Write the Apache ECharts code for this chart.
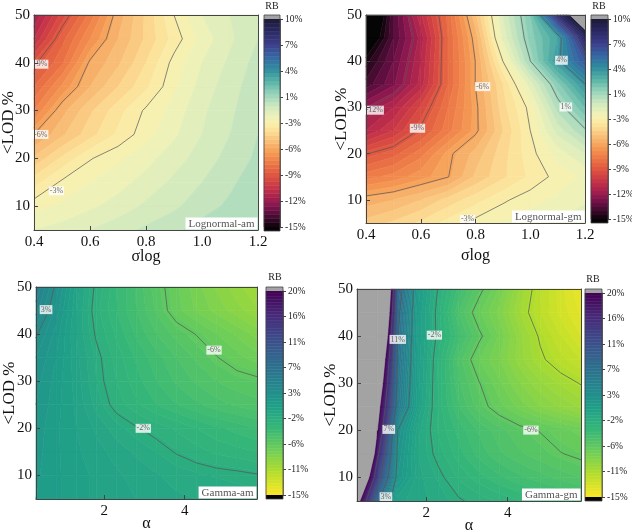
<!DOCTYPE html>
<html>
<head>
<meta charset="utf-8">
<script src="https://cdn.jsdelivr.net/npm/echarts@6/dist/echarts.min.js"></script>
<style>
html, body { margin: 0; padding: 0; background: #fff; }
#chart { width: 632px; height: 532px; }
</style>
</head>
<body>
<div id="chart"></div>
<script>
// ---- data ----
var sigmaLog = [0.4, 0.5, 0.6, 0.7, 0.8, 0.9, 1.0, 1.1, 1.2];
var alphaVals = [0.3, 0.8, 1.3, 1.8, 2.3, 2.8, 3.3, 3.8, 4.3, 4.8, 5.3, 5.8];
var lodVals = [5, 10, 15, 20, 25, 30, 35, 40, 45, 50];

// tick labels
var sigmaTicks = [0.4, 0.6, 0.8, 1.0, 1.2];
var alphaTicks = [2, 4];
var lodTicks = [10, 20, 30, 40, 50];

// RB (%) , one row per <LOD value (5 .. 50), one column per sigmaLog / alpha
var rbLognormalAm = [
  [-1.5, -1.3, -1.0, -0.7, -0.4, -0.1, 0.2, 0.4, 0.55],
  [-2.2, -1.9, -1.6, -1.3, -0.9, -0.6, -0.2, 0.1, 0.45],
  [-3.2, -2.4, -2.0, -1.7, -1.3, -0.9, -0.5, -0.1, 0.3],
  [-4.4, -3.4, -2.55, -2.1, -1.7, -1.2, -0.8, -0.3, 0.1],
  [-5.6, -4.6, -3.7, -2.9, -2.2, -1.6, -1.0, -0.5, 0.0],
  [-7.0, -5.2, -4.1, -3.2, -2.4, -1.8, -1.1, -0.6, -0.1],
  [-8.0, -6.4, -5.0, -4.0, -3.1, -2.1, -1.3, -0.7, -0.2],
  [-8.9, -7.6, -5.5, -4.6, -3.5, -2.3, -1.5, -0.9, -0.3],
  [-10.5, -8.2, -6.5, -5.0, -3.9, -2.8, -1.8, -1.1, -0.5],
  [-11.5, -9.3, -7.3, -5.3, -3.9, -2.5, -1.5, -1.0, -0.6]
];
var rbLognormalGm = [
  [-4.3, -3.9, -3.4, -2.8, -2.3, -2.0, -1.7, -1.4, -1.1],
  [-5.3, -5.0, -4.5, -3.8, -3.2, -2.6, -2.2, -1.9, -1.6],
  [-7.2, -6.8, -6.2, -5.65, -4.4, -3.6, -2.9, -2.3, -1.9],
  [-8.8, -8.2, -7.2, -5.8, -4.8, -3.7, -2.7, -1.8, -1.0],
  [-11.0, -10.0, -8.6, -7.2, -5.8, -4.0, -2.5, -0.8, 0.5],
  [-12.0, -11.0, -9.4, -7.5, -5.8, -3.7, -2.3, 0.2, 2.0],
  [-13.8, -12.6, -10.8, -8.0, -5.6, -3.5, -1.3, 1.3, 3.7],
  [-14.7, -13.0, -11.0, -8.0, -5.6, -2.5, 0.6, 3.5, 6.0],
  [-16.5, -13.5, -11.3, -8.0, -5.3, -1.4, 1.2, 3.0, 8.5],
  [-18.0, -13.5, -10.6, -7.8, -4.6, -1.0, 1.5, 8.0, 12.5]
];
var rbGammaAm = [
  [1.0, 0.6, 0.2, -0.1, -0.3, -0.5, -0.7, -0.9, -1.0, -1.1, -1.2, -1.3],
  [1.1, 0.6, 0.2, -0.1, -0.4, -0.7, -0.95, -1.2, -1.4, -1.55, -1.65, -1.8],
  [1.2, 0.6, 0.1, -0.3, -0.7, -1.1, -1.5, -1.95, -2.3, -2.6, -2.8, -3.0],
  [1.3, 0.6, 0.0, -0.6, -1.3, -1.8, -2.2, -2.6, -3.0, -3.4, -3.7, -4.0],
  [1.5, 0.7, -0.1, -1.2, -2.2, -2.9, -3.5, -4.0, -4.4, -4.8, -5.1, -5.3],
  [1.7, 0.8, -0.2, -1.5, -2.5, -3.3, -4.0, -4.6, -5.1, -5.5, -5.8, -6.0],
  [2.0, 1.0, -0.3, -1.6, -2.7, -3.6, -4.3, -5.0, -5.6, -6.2, -6.8, -7.3],
  [2.6, 1.3, -0.5, -2.0, -3.1, -4.1, -5.0, -5.7, -6.3, -7.0, -7.6, -8.2],
  [3.7, 1.8, -0.4, -2.3, -3.5, -4.5, -5.6, -6.8, -7.6, -8.2, -8.8, -9.4],
  [4.5, 2.3, -0.2, -2.1, -3.4, -4.6, -5.8, -6.9, -7.8, -8.6, -9.3, -10.0]
];
var rbGammaGm = [
  [22, 7.5, -0.3, -0.8, -1.2, -1.75, -2.2, -2.6, -3.0, -3.3, -3.6, -3.9],
  [30, 13.0, 1.5, -0.8, -1.6, -2.6, -3.3, -3.9, -4.4, -4.8, -5.2, -5.5],
  [40, 16.5, 2.0, -1.0, -2.2, -3.3, -4.2, -4.9, -5.4, -5.8, -6.2, -6.5],
  [45, 20.0, 2.5, -0.8, -2.6, -3.7, -4.6, -5.3, -5.9, -6.3, -6.8, -7.2],
  [50, 22, 5.5, 0.0, -2.7, -4.5, -5.8, -6.8, -7.7, -8.5, -9.1, -9.6],
  [55, 25, 6.0, 0.2, -2.7, -4.9, -6.2, -7.4, -8.5, -9.4, -10.1, -10.7],
  [60, 28, 6.5, 0.3, -2.6, -5.2, -7.0, -8.0, -9.3, -10.4, -11.3, -12.0],
  [70, 33, 7.0, 0.4, -2.2, -4.3, -6.0, -7.6, -9.3, -10.8, -12.0, -13.0],
  [75, 38, 7.5, 0.5, -2.3, -5.0, -6.9, -8.2, -10.0, -11.5, -12.7, -13.6],
  [80, 42, 8.5, 0.8, -2.0, -4.2, -5.9, -7.6, -9.6, -11.3, -12.8, -14.0]
];

// contour lines drawn (colorbar tick levels) and their inline labels [x, <LOD, text]
var linesLognormalAm = [-8.75, -5.625, -2.5];
var linesLognormalGm = [-11.875, -8.75, -5.625, -2.5, 0.625, 3.75, 6.875];
var linesGammaAm = [2.5, -1.875, -6.25];
var linesGammaGm = [15.625, 11.25, 6.875, 2.5, -1.875, -6.25, -10.625];

var labelsLognormalAm = [[0.424, 39.7, '-9%'], [0.424, 25.0, '-6%'], [0.48, 13.2, '-3%']];
var labelsLognormalGm = [[0.43, 29.4, '-12%'], [0.588, 25.5, '-9%'], [0.826, 34.5, '-6%'],
  [0.771, 5.8, '-3%'], [1.114, 40.2, '4%'], [1.13, 30.1, '1%']];
var labelsGammaAm = [[0.55, 45.2, '3%'], [2.97, 20.0, '-2%'], [4.73, 36.6, '-6%']];
var labelsGammaGm = [[1.30, 39.3, '11%'], [2.2, 40.2, '-2%'], [1.08, 20.2, '7%'],
  [1.01, 5.9, '3%'], [4.57, 20.05, '-6%']];

// colour scale ranges (RB %)
var rangeLognormal = [-15, 10];
var rangeGamma = [-15, 20];
var fillStep = 0.5;

// ---- styling ----
var FONT = '"Liberation Serif", "Times New Roman", serif';
var stopsLognormal = [
  [-15, '#0c0308'], [-14, '#3a0a2a'], [-13, '#6a1046'], [-12, '#961a50'],
  [-10.5, '#c2304a'], [-9, '#dc5040'], [-7.5, '#ec7646'], [-6, '#f59c56'],
  [-4.5, '#f9c47c'], [-3, '#fce9a2'], [-2, '#f4f2b6'], [-0.5, '#cfe9c0'],
  [1, '#97d3bb'], [2.5, '#56b2a5'], [4, '#2f8c9e'], [5.5, '#3766a4'],
  [7, '#3d3e8a'], [8.5, '#2c2863'], [10, '#1c1a36']
];
var stopsGamma = [
  [-15, '#fde725'], [-11.11, '#b5de2b'], [-7.22, '#6ece58'], [-3.33, '#35b779'],
  [0.56, '#1f9e89'], [4.44, '#26828e'], [8.33, '#31688e'], [12.22, '#3e4989'],
  [16.11, '#482878'], [20, '#440154']
];
var underColor = '#050505';
var overColor = '#a3a3a3';

function hexToRgb(h) {
  return [parseInt(h.substr(1, 2), 16), parseInt(h.substr(3, 2), 16), parseInt(h.substr(5, 2), 16)];
}
function makeCmap(stops) {
  var rgb = stops.map(function (s) { return [s[0], hexToRgb(s[1])]; });
  return function (v) {
    if (v <= rgb[0][0]) return stops[0][1];
    for (var k = 1; k < rgb.length; k++) {
      if (v <= rgb[k][0]) {
        var a = rgb[k - 1], b = rgb[k];
        var t = (v - a[0]) / (b[0] - a[0]);
        var c = [0, 1, 2].map(function (n) { return Math.round(a[1][n] + t * (b[1][n] - a[1][n])); });
        return 'rgb(' + c.join(',') + ')';
      }
    }
    return stops[stops.length - 1][1];
  };
}

function makeLevels(range) {
  var out = [];
  for (var v = range[0]; v <= range[1] + 1e-9; v += fillStep) out.push(+v.toFixed(3));
  return out;
}

function pctLabel(v) {
  var r = Math.round(Math.abs(v));
  return (v < 0 && r !== 0 ? '-' : '') + r + '%';
}

// Sutherland-Hodgman clip of a polygon on the scalar v
function clipPoly(poly, lev, keepAbove) {
  var out = [];
  for (var a = 0; a < poly.length; a++) {
    var p = poly[a], q = poly[(a + 1) % poly.length];
    var pin = keepAbove ? p.v >= lev : p.v < lev;
    var qin = keepAbove ? q.v >= lev : q.v < lev;
    if (pin) out.push(p);
    if (pin !== qin) {
      var t = (lev - p.v) / (q.v - p.v);
      out.push({ x: p.x + t * (q.x - p.x), y: p.y + t * (q.y - p.y), v: lev });
    }
  }
  return out;
}

function cellQuad(xs, ys, z, i, j) {
  return [
    { x: xs[j], y: ys[i], v: z[i][j] },
    { x: xs[j + 1], y: ys[i], v: z[i][j + 1] },
    { x: xs[j + 1], y: ys[i + 1], v: z[i + 1][j + 1] },
    { x: xs[j], y: ys[i + 1], v: z[i + 1][j] }
  ];
}

function cellData(xs, ys) {
  var d = [];
  for (var i = 0; i < ys.length - 1; i++)
    for (var j = 0; j < xs.length - 1; j++)
      d.push([(xs[j] + xs[j + 1]) / 2, (ys[i] + ys[i + 1]) / 2, i, j]);
  return d;
}

function fillRenderer(xs, ys, z, levels, cmap) {
  return function (params, api) {
    var quad = cellQuad(xs, ys, z, api.value(2), api.value(3));
    var vs = quad.map(function (p) { return p.v; });
    var vmin = Math.min.apply(null, vs), vmax = Math.max.apply(null, vs);
    var n = levels.length, children = [];
    for (var k = -1; k < n; k++) {
      var lo = k < 0 ? -Infinity : levels[k];
      var hi = k >= n - 1 ? Infinity : levels[k + 1];
      if (hi <= vmin || lo > vmax) continue;
      var poly = quad;
      if (lo > -Infinity) poly = clipPoly(poly, lo, true);
      if (hi < Infinity) poly = clipPoly(poly, hi, false);
      if (poly.length < 3) continue;
      var color = k < 0 ? underColor : (k >= n - 1 ? overColor : cmap((lo + hi) / 2));
      children.push({
        type: 'polygon',
        shape: { points: poly.map(function (p) { return api.coord([p.x, p.y]); }) },
        style: { fill: color, stroke: color, lineWidth: 0.6 }
      });
    }
    return { type: 'group', children: children };
  };
}

function lineRenderer(xs, ys, z, lineLevels) {
  return function (params, api) {
    var quad = cellQuad(xs, ys, z, api.value(2), api.value(3));
    var children = [];
    lineLevels.forEach(function (lev) {
      var pts = [];
      for (var e = 0; e < 4; e++) {
        var p = quad[e], q = quad[(e + 1) % 4];
        if ((p.v >= lev) !== (q.v >= lev)) {
          var t = (lev - p.v) / (q.v - p.v);
          pts.push(api.coord([p.x + t * (q.x - p.x), p.y + t * (q.y - p.y)]));
        }
      }
      for (var s = 0; s + 1 < pts.length; s += 2) {
        children.push({
          type: 'line',
          shape: { x1: pts[s][0], y1: pts[s][1], x2: pts[s + 1][0], y2: pts[s + 1][1] },
          style: { stroke: '#555', lineWidth: 0.7 }
        });
      }
    });
    return { type: 'group', children: children };
  };
}

function colorbarRenderer(range, cmap, ext) {
  return function (params, api) {
    var kind = api.value(4), lo = api.value(2), hi = api.value(3);
    var a = api.coord([0, lo]), b = api.coord([1, hi]);
    var x = a[0], w = b[0] - a[0];
    if (kind === 0) {
      var c = cmap((lo + hi) / 2 + range[0]);
      return { type: 'rect', shape: { x: x, y: b[1], width: w, height: a[1] - b[1] },
        style: { fill: c, stroke: c, lineWidth: 0.5 } };
    }
    if (kind === 1) {
      return { type: 'rect', shape: { x: x, y: a[1], width: w, height: ext }, style: { fill: underColor } };
    }
    if (kind === 2) {
      return { type: 'rect', shape: { x: x, y: b[1] - ext, width: w, height: ext }, style: { fill: overColor } };
    }
    return { type: 'rect', shape: { x: x, y: b[1] - ext, width: w, height: a[1] - b[1] + 2 * ext },
      style: { fill: 'none', stroke: '#444', lineWidth: 0.8 }, z2: 10 };
  };
}

function colorbarData(range) {
  var span = range[1] - range[0], d = [];
  for (var v = 0; v < span - 1e-9; v += fillStep) d.push([0.5, v + fillStep / 2, v, v + fillStep, 0]);
  d.push([0.5, 0, 0, 0, 1]);
  d.push([0.5, span, span, span, 2]);
  d.push([0.5, span / 2, 0, span, 3]);
  return d;
}

var panels = [
  { name: 'Lognormal-am', xs: sigmaLog, z: rbLognormalAm, range: rangeLognormal, stops: stopsLognormal,
    lines: linesLognormalAm, labels: labelsLognormalAm, xName: 'σlog', xTicks: sigmaTicks, xDigits: 1,
    grid: { left: 34, top: 15, width: 224, height: 215 }, xGap: 19, yGap: 17,
    cb: { left: 264, top: 19, width: 16, height: 208 }, rb: [272, 6] },
  { name: 'Lognormal-gm', xs: sigmaLog, z: rbLognormalGm, range: rangeLognormal, stops: stopsLognormal,
    lines: linesLognormalGm, labels: labelsLognormalGm, xName: 'σlog', xTicks: sigmaTicks, xDigits: 1,
    grid: { left: 366, top: 15, width: 219, height: 208 }, xGap: 25, yGap: 16,
    cb: { left: 591, top: 19, width: 17, height: 200 }, rb: [599, 6] },
  { name: 'Gamma-am', xs: alphaVals, z: rbGammaAm, range: rangeGamma, stops: stopsGamma,
    lines: linesGammaAm, labels: labelsGammaAm, xName: 'α', xTicks: alphaTicks, xDigits: 0,
    grid: { left: 36, top: 287, width: 221, height: 212 }, xGap: 17, yGap: 18,
    cb: { left: 266, top: 291, width: 17, height: 204 }, rb: [275, 277] },
  { name: 'Gamma-gm', xs: alphaVals, z: rbGammaGm, range: rangeGamma, stops: stopsGamma,
    lines: linesGammaGm, labels: labelsGammaGm, xName: 'α', xTicks: alphaTicks, xDigits: 0,
    grid: { left: 357, top: 289, width: 224, height: 212 }, xGap: 17, yGap: 18,
    cb: { left: 585, top: 293, width: 17, height: 204 }, rb: [593, 279] }
];

var option = { animation: false, backgroundColor: '#fff', grid: [], xAxis: [], yAxis: [], series: [], graphic: [] };
var axisColor = '#444';
var textColor = '#111';

panels.forEach(function (p) {
  var xmin = p.xs[0], xmax = p.xs[p.xs.length - 1];
  var cmap = makeCmap(p.stops);
  var levels = makeLevels(p.range);
  var digits = p.xDigits;

  var g = option.grid.length;
  option.grid.push(Object.assign({ outerBoundsMode: 'none' }, p.grid));
  var xi = option.xAxis.length, yi = option.yAxis.length;
  option.xAxis.push({
    gridIndex: g, type: 'value', min: xmin, max: xmax, position: 'bottom', z: 10,
    name: p.xName, nameLocation: 'middle', nameGap: p.xGap, nameMoveOverlap: false,
    nameTextStyle: { fontFamily: FONT, fontSize: 16, color: textColor },
    axisLine: { show: true, onZero: false, lineStyle: { color: axisColor, width: 1 } },
    axisTick: { show: true, inside: true, length: 4, customValues: p.xTicks, lineStyle: { color: axisColor } },
    axisLabel: { fontFamily: FONT, fontSize: 15, color: textColor, margin: 5, customValues: p.xTicks,
      formatter: function (v) { return Number(v).toFixed(digits); } },
    splitLine: { show: false }
  });
  option.xAxis.push({
    gridIndex: g, type: 'value', min: xmin, max: xmax, position: 'top', z: 10,
    axisLine: { show: true, onZero: false, lineStyle: { color: axisColor, width: 1 } },
    axisTick: { show: false }, axisLabel: { show: false }, splitLine: { show: false }
  });
  option.yAxis.push({
    gridIndex: g, type: 'value', min: 5, max: 50, position: 'left', z: 10,
    name: '<LOD %', nameLocation: 'middle', nameGap: p.yGap, nameMoveOverlap: false,
    nameTextStyle: { fontFamily: FONT, fontSize: 17, color: textColor },
    axisLine: { show: true, onZero: false, lineStyle: { color: axisColor, width: 1 } },
    axisTick: { show: true, inside: true, length: 4, customValues: lodTicks, lineStyle: { color: axisColor } },
    axisLabel: { fontFamily: FONT, fontSize: 15, color: textColor, margin: 4, customValues: lodTicks },
    splitLine: { show: false }
  });
  option.yAxis.push({
    gridIndex: g, type: 'value', min: 5, max: 50, position: 'right', z: 10,
    axisLine: { show: true, onZero: false, lineStyle: { color: axisColor, width: 1 } },
    axisTick: { show: false }, axisLabel: { show: false }, splitLine: { show: false }
  });

  var cells = cellData(p.xs, lodVals);
  option.series.push({
    type: 'custom', xAxisIndex: xi, yAxisIndex: yi, data: cells, encode: { x: 0, y: 1 },
    renderItem: fillRenderer(p.xs, lodVals, p.z, levels, cmap), silent: true, z: 2
  });
  option.series.push({
    type: 'custom', xAxisIndex: xi, yAxisIndex: yi, data: cells, encode: { x: 0, y: 1 },
    renderItem: lineRenderer(p.xs, lodVals, p.z, p.lines), silent: true, z: 3
  });
  option.series.push({
    type: 'scatter', xAxisIndex: xi, yAxisIndex: yi, silent: true, z: 4,
    symbolSize: 1, itemStyle: { color: 'transparent' },
    data: p.labels.map(function (l) { return { value: [l[0], l[1]], name: l[2] }; }),
    label: { show: true, position: 'inside', formatter: '{b}', fontFamily: FONT, fontSize: 8,
      color: '#444', backgroundColor: '#fff', padding: [1, 1, 0, 1], lineHeight: 8 }
  });

  // colorbar
  var span = p.range[1] - p.range[0];
  var cg = option.grid.length;
  option.grid.push(Object.assign({ outerBoundsMode: 'none' }, p.cb));
  var cxi = option.xAxis.length, cyi = option.yAxis.length;
  option.xAxis.push({ gridIndex: cg, type: 'value', min: 0, max: 1, show: false });
  option.yAxis.push({
    gridIndex: cg, type: 'value', min: 0, max: span, interval: span / 8, position: 'right',
    axisLine: { show: true, onZero: false, lineStyle: { color: axisColor, width: 0.8 } },
    axisTick: { show: true, length: 3, lineStyle: { color: axisColor } },
    axisLabel: { fontFamily: FONT, fontSize: 9.5, color: '#222', margin: 5,
      formatter: (function (r0) { return function (u) { return pctLabel(u + r0); }; })(p.range[0]) },
    splitLine: { show: false }
  });
  option.series.push({
    type: 'custom', xAxisIndex: cxi, yAxisIndex: cyi,
    data: colorbarData(p.range), encode: { x: 0, y: 1 }, clip: false, silent: true, z: 2,
    renderItem: colorbarRenderer(p.range, cmap, 4)
  });

  option.graphic.push({
    type: 'text', x: p.rb[0], y: p.rb[1], z: 100, silent: true,
    style: { text: 'RB', fontFamily: FONT, fontSize: 10, fill: '#222', align: 'center', verticalAlign: 'middle' }
  });
  option.graphic.push({
    type: 'text', x: p.grid.left + p.grid.width - 0.5, y: p.grid.top + p.grid.height - 0.5, z: 100, silent: true,
    style: { text: p.name, fontFamily: FONT, fontSize: 11, fill: '#555', align: 'right', verticalAlign: 'bottom',
      backgroundColor: '#fff', padding: [1, 3, 0, 3] }
  });
});

var chart = echarts.init(document.getElementById('chart'), null, { renderer: 'canvas' });
chart.setOption(option);
</script>
</body>
</html>
